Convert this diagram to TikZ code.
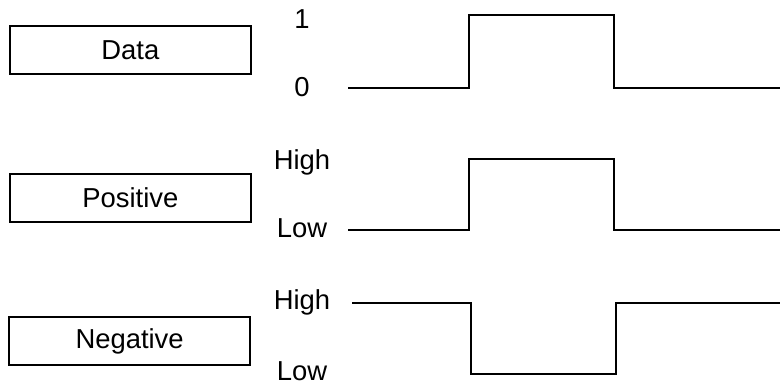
\documentclass[tikz,border=0pt]{standalone}
\usepackage{fontspec}
\setmainfont{Liberation Sans}
\usetikzlibrary{positioning}
\tikzset{
  sigbox/.style={draw, line width=1.1pt, minimum width=6.02cm, minimum height=1.2cm, inner sep=0pt, font=\fontsize{19.5}{23}\selectfont},
  levellabel/.style={anchor=base, inner sep=0pt, font=\fontsize{19.5}{23}\selectfont},
  wave/.style={line width=1.4pt, line join=miter}
}
\begin{document}
\begin{tikzpicture}
  \useasboundingbox (0,0) rectangle (19.5,9.625);

  %% Signal name boxes
  \node[sigbox] (databox) at (3.26,8.375) {Data};
  \node[sigbox] (posbox)  at (3.26,4.675) {Positive};
  \node[sigbox] (negbox)  at (3.24,1.1)   {Negative};

  %% Level labels
  \node[levellabel] (dataone)  at (7.55,8.9)   {1};
  \node[levellabel] (datazero) at (7.55,7.2)   {0};
  \node[levellabel] (poshigh)  at (7.55,5.375) {High};
  \node[levellabel] (poslow)   at (7.55,3.675) {Low};
  \node[levellabel] (neghigh)  at (7.55,1.875) {High};
  \node[levellabel] (neglow)   at (7.55,0.12)  {Low};

  %% Waveforms
  \draw[wave] (8.7,7.425) -- (11.725,7.425) -- (11.725,9.25) -- (15.35,9.25) -- (15.35,7.425) -- (19.5,7.425);
  \draw[wave] (8.7,3.875) -- (11.725,3.875) -- (11.725,5.65) -- (15.35,5.65) -- (15.35,3.875) -- (19.5,3.875);
  \draw[wave] (8.8,2.05) -- (11.775,2.05) -- (11.775,0.275) -- (15.4,0.275) -- (15.4,2.05) -- (19.5,2.05);
\end{tikzpicture}
\end{document}
